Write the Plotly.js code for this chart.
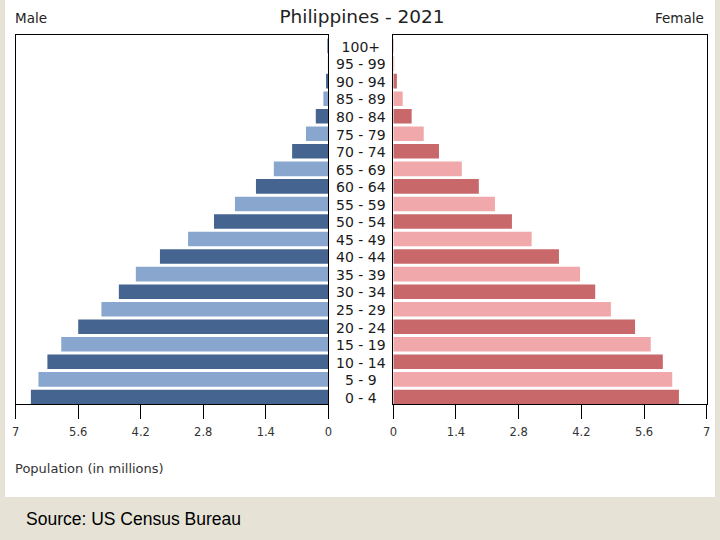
<!DOCTYPE html>
<html>
<head>
<meta charset="utf-8">
<script src="https://cdn.plot.ly/plotly-3.0.1.min.js"></script>
<style>
  html, body { margin: 0; padding: 0; background: #E6E3D6; }
  #chart { width: 720px; height: 540px; }
</style>
</head>
<body>
<div id="chart"></div>
<script>
// Age groups, bottom to top
const ageGroups = ["0 - 4","5 - 9","10 - 14","15 - 19","20 - 24","25 - 29","30 - 34","35 - 39",
  "40 - 44","45 - 49","50 - 54","55 - 59","60 - 64","65 - 69","70 - 74","75 - 79",
  "80 - 84","85 - 89","90 - 94","95 - 99","100+"];
// Population in millions
const male   = [6.66,6.49,6.29,5.98,5.60,5.08,4.69,4.31,3.77,3.14,2.56,2.09,1.62,1.22,0.81,0.50,0.28,0.11,0.05,0.01,0.02];
const female = [6.38,6.23,6.02,5.75,5.40,4.86,4.51,4.17,3.70,3.09,2.65,2.27,1.91,1.53,1.02,0.68,0.41,0.21,0.08,0.02,0.01];
const tickVals = [0,1.4,2.8,4.2,5.6,7];
const tickText = ["0","1.4","2.8","4.2","5.6","7"];

const maleColors   = ageGroups.map((_, i) => i % 2 === 0 ? "#456590" : "#88A6CE");
const femaleColors = ageGroups.map((_, i) => i % 2 === 0 ? "#C8686A" : "#F0A8AA");

const FONT = "DejaVu Sans, sans-serif";
const W = 720, H = 540;
const px = v => v / W, py = v => 1 - v / H;

const traces = [
  { type: "bar", orientation: "h", x: male, y: ageGroups, xaxis: "x", yaxis: "y",
    marker: { color: maleColors, line: { width: 0 } }, hoverinfo: "none", showlegend: false },
  { type: "bar", orientation: "h", x: female, y: ageGroups, xaxis: "x2", yaxis: "y2",
    marker: { color: femaleColors, line: { width: 0 } }, hoverinfo: "none", showlegend: false },
  { type: "scatter", mode: "text", x: ageGroups.map(() => 0), y: ageGroups, xaxis: "x3", yaxis: "y3",
    text: ageGroups, textposition: "middle center",
    textfont: { family: FONT, size: 14, color: "#1a1a1a" }, hoverinfo: "none", showlegend: false }
];

const yDom = [py(404.3), py(35)];
const yBase = { type: "category", range: [-0.42, 20.63], domain: yDom, showticklabels: false,
  ticks: "", showgrid: false, zeroline: false, fixedrange: true };
const xBase = { tickvals: tickVals, ticktext: tickText, ticks: "outside", ticklen: 14, tickwidth: 1,
  tickcolor: "#000", showline: true, linecolor: "#000", linewidth: 1, mirror: true,
  ticklabelstandoff: 3,
  showgrid: false, zeroline: false, tickfont: { family: FONT, size: 11.5, color: "#333" } };

const layout = {
  width: W, height: H,
  margin: { l: 0, r: 0, t: 0, b: 0 },
  paper_bgcolor: "#E6E3D6",
  plot_bgcolor: "#FFFFFF",
  bargap: 0.17,
  font: { family: FONT },
  title: { text: "Philippines - 2021", x: px(362), y: py(17), xanchor: "center", yanchor: "middle",
    xref: "paper", yref: "container", font: { family: FONT, size: 18.5, color: "#222" } },
  xaxis:  Object.assign({}, xBase, { domain: [px(15.7), px(328.3)], range: [7, 0], anchor: "y" }),
  xaxis2: Object.assign({}, xBase, { domain: [px(393.3), px(706.7)], range: [0, 7], anchor: "y2" }),
  xaxis3: { domain: [px(328.3), px(393.3)], range: [-1, 1], visible: false, anchor: "y3" },
  yaxis:  Object.assign({}, yBase, { anchor: "x", showline: true, linecolor: "#000", linewidth: 1, mirror: true }),
  yaxis2: Object.assign({}, yBase, { anchor: "x2", showline: true, linecolor: "#000", linewidth: 1, mirror: true }),
  yaxis3: Object.assign({}, yBase, { anchor: "x3", visible: false, range: [-0.29, 20.76] }),
  shapes: [
    { type: "rect", xref: "paper", yref: "paper", x0: px(5), x1: px(715), y0: py(497), y1: 1,
      fillcolor: "#FFFFFF", line: { width: 0 }, layer: "below" }
  ],
  annotations: [
    { text: "Male", xref: "paper", yref: "paper", x: px(13), y: py(18), xanchor: "left", yanchor: "middle",
      showarrow: false, font: { family: FONT, size: 13.5, color: "#222" } },
    { text: "Female", xref: "paper", yref: "paper", x: px(706), y: py(18), xanchor: "right", yanchor: "middle",
      showarrow: false, font: { family: FONT, size: 13.5, color: "#222" } },
    { text: "Population (in millions)", xref: "paper", yref: "paper", x: px(13), y: py(468), xanchor: "left", yanchor: "middle",
      showarrow: false, font: { family: FONT, size: 13, color: "#333" } },
    { text: "Source: US Census Bureau", xref: "paper", yref: "paper", x: px(24), y: py(519), xanchor: "left", yanchor: "middle",
      showarrow: false, font: { family: "Liberation Sans, Arial, sans-serif", size: 17.5, color: "#000" } }
  ]
};

Plotly.newPlot("chart", traces, layout, { staticPlot: true, displayModeBar: false });
</script>
</body>
</html>
